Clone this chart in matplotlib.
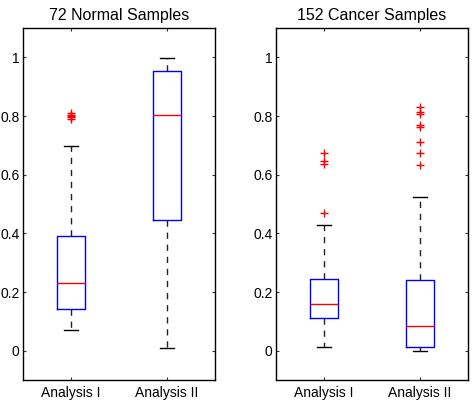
import matplotlib
matplotlib.use("Agg")
import matplotlib.pyplot as plt

plt.rcParams['font.family'] = ['Liberation Sans', 'DejaVu Sans']

titles = ["72 Normal Samples", "152 Cancer Samples"]
labels = ["Analysis I", "Analysis II"]

# per panel, per group: whislo, q1, med, q3, whishi, fliers
normal_whislo = [0.071, 0.009]
normal_q1 = [0.143, 0.447]
normal_med = [0.229, 0.803]
normal_q3 = [0.390, 0.953]
normal_whishi = [0.698, 0.999]
normal_fliers = [[0.790, 0.795, 0.800, 0.805, 0.810], []]

cancer_whislo = [0.011, 0.0]
cancer_q1 = [0.110, 0.011]
cancer_med = [0.159, 0.084]
cancer_q3 = [0.246, 0.240]
cancer_whishi = [0.427, 0.523]
cancer_fliers = [[0.469, 0.638, 0.645, 0.675],
                 [0.632, 0.673, 0.712, 0.763, 0.771, 0.808, 0.815, 0.829]]

yticks = [0, 0.2, 0.4, 0.6, 0.8, 1.0]
yticklabels = ["0", "0.2", "0.4", "0.6", "0.8", "1"]

panels = [
    (normal_whislo, normal_q1, normal_med, normal_q3, normal_whishi, normal_fliers),
    (cancer_whislo, cancer_q1, cancer_med, cancer_q3, cancer_whishi, cancer_fliers),
]

fig = plt.figure(figsize=(4.76, 4.08), dpi=100)
W, H = 476, 408
ax_rects = [(23, 28, 215, 380), (276, 28, 468, 380)]

for (x0, y0, x1, y1), title, panel in zip(ax_rects, titles, panels):
    ax = fig.add_axes([x0 / W, 1 - y1 / H, (x1 - x0) / W, (y1 - y0) / H])
    wl, q1, md, q3, wh, fl = panel
    stats = []
    for i in range(2):
        stats.append(dict(whislo=wl[i], q1=q1[i], med=md[i], q3=q3[i],
                          whishi=wh[i], fliers=fl[i], label=labels[i]))
    ax.bxp(stats, positions=[1, 2], widths=0.3, capwidths=0.15,
           boxprops=dict(color='#0000ff', linewidth=1.0),
           medianprops=dict(color='#ff0000', linewidth=1.0),
           whiskerprops=dict(color='#222222', linewidth=1.0, linestyle=(0, (4.5, 4.2))),
           capprops=dict(color='black', linewidth=1.0),
           flierprops=dict(marker='+', markeredgecolor='#ff0000', markersize=6,
                           markeredgewidth=1.0, linestyle='none'))
    ax.set_xlim(0.5, 2.5)
    ax.set_ylim(-0.1, 1.1)
    ax.set_yticks(yticks)
    ax.set_yticklabels(yticklabels)
    ax.set_xticks([1, 2])
    ax.set_xticklabels(labels)
    ax.tick_params(direction='in', top=True, right=True, length=2.5, labelsize=10,
                   width=0.8, color='#333333')
    ax.tick_params(axis='y', pad=2.5)
    ax.tick_params(axis='x', pad=4.5)
    for s in ax.spines.values():
        s.set_linewidth(1.0)
    ax.set_title(title, fontsize=11.5, pad=6)

fig.savefig("out.png", dpi=100)
